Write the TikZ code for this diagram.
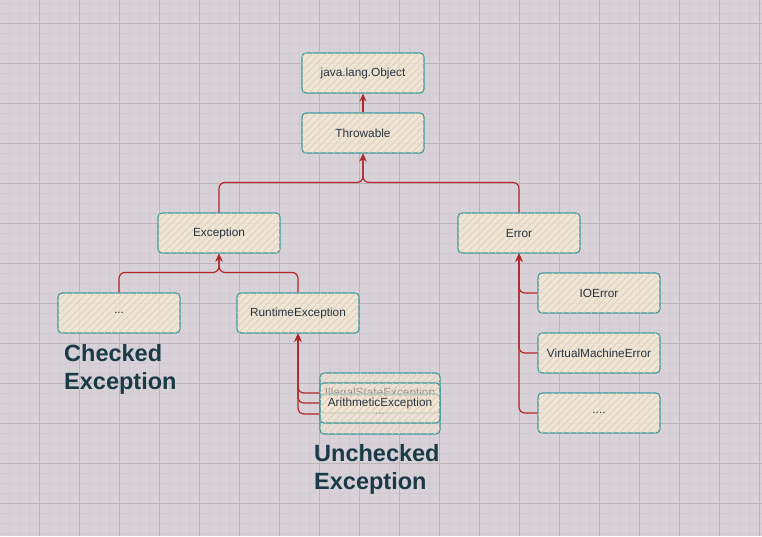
\documentclass[tikz,border=0pt]{standalone}
\usepackage{fontspec}
\setmainfont{Liberation Sans}
\usetikzlibrary{arrows.meta,patterns.meta}
\definecolor{bgc}{RGB}{216,210,216}
\definecolor{majc}{RGB}{188,181,188}
\definecolor{minc}{RGB}{209,202,209}
\definecolor{boxfill}{RGB}{246,232,210}
\definecolor{hatch}{RGB}{218,204,198}
\definecolor{boxline}{RGB}{58,152,152}
\definecolor{arrc}{RGB}{176,40,44}
\definecolor{txt}{RGB}{40,52,60}
\definecolor{big}{RGB}{26,58,72}
\tikzset{
  jbox/.style={draw=boxline, line width=1.1pt, rounded corners=4pt,
    fill=boxfill, fill opacity=0.82, text opacity=1,
    postaction={pattern={Lines[angle=45,distance=5pt,line width=0.7pt]}, pattern color=hatch},
    minimum width=122pt, minimum height=40pt, inner sep=0pt,
    text=txt, font=\fontsize{11.8}{13}\selectfont},
  stackbox/.style={jbox, minimum width=120pt, fill opacity=0.5},
  conn/.style={draw=arrc, line width=1.2pt, rounded corners=6pt,
    -{Stealth[length=8pt,width=7pt]}},
  biglabel/.style={anchor=north west, align=left, text=big, inner sep=0pt,
    font=\fontsize{23.5}{28}\selectfont\bfseries}
}
\begin{document}
\begin{tikzpicture}[x=1pt,y=-1pt]
\useasboundingbox (0,0) rectangle (762,536);
\fill[bgc] (0,0) rectangle (762,536);
\foreach \i in {0,...,76} {\draw[minc,line width=0.5pt] (9+10*\i,0) -- (9+10*\i,536);}
\foreach \j in {0,...,53} {\draw[minc,line width=0.5pt] (0,3+10*\j) -- (762,3+10*\j);}
\foreach \i in {0,...,18} {\draw[majc,line width=0.8pt] (39+40*\i,0) -- (39+40*\i,536);}
\foreach \j in {0,...,13} {\draw[majc,line width=0.8pt] (0,23+40*\j) -- (762,23+40*\j);}

\node[jbox] (obj) at (363,73) {java.lang.Object};
\node[jbox] (thr) at (363,133) {Throwable};
\node[jbox] (exc) at (219,233) {Exception};
\node[jbox] (err) at (519,233) {Error};
\node[jbox] (chk) at (119,313) {...};
\node[jbox] (rte) at (298,313) {RuntimeException};
\node[jbox] (ioe) at (599,293) {IOError};
\node[jbox] (vme) at (599,353) {VirtualMachineError};
\node[jbox] (edots) at (599,413) {....};
\node[stackbox] (ise) at (380,393) {IllegalStateException};
\node[stackbox] (udots) at (380,414) {...};
\node[stackbox] (ari) at (380,403) {ArithmeticException};

\draw[conn] (thr.north) -- (obj.south);
\draw[conn] (exc.north) -- ++(0,-30) -| (thr.south);
\draw[conn] (err.north) -- ++(0,-30) -| (thr.south);
\draw[conn] (chk.north) -- ++(0,-20) -| (exc.south);
\draw[conn] (rte.north) -- ++(0,-20) -| (exc.south);
\draw[conn] (ioe.west) -| (err.south);
\draw[conn] (vme.west) -| (err.south);
\draw[conn] (edots.west) -| (err.south);
\draw[conn] (ise.west) -| (rte.south);
\draw[conn] (ari.west) -| (rte.south);
\draw[conn] (udots.west) -| (rte.south);

\node[biglabel] (chklab) at (64,344) {Checked\\Exception};
\node[biglabel] (unchklab) at (314,444) {Unchecked\\Exception};
\end{tikzpicture}
\end{document}
